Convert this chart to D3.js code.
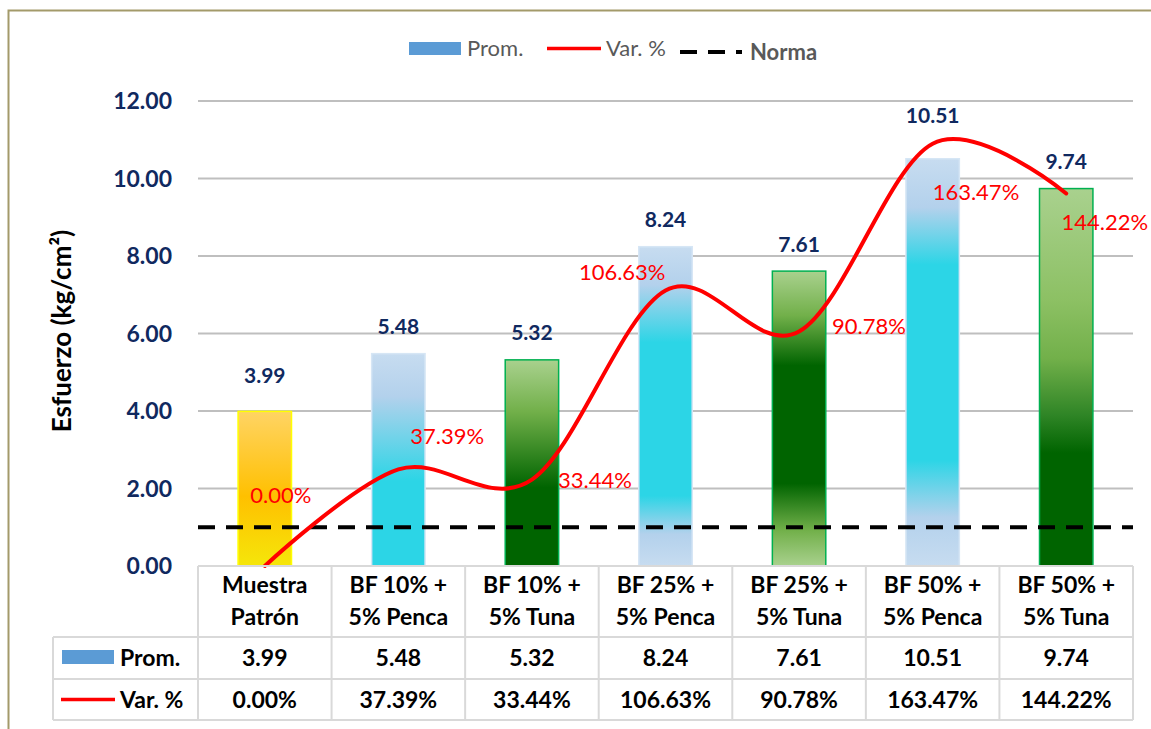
<!DOCTYPE html>
<html>
<head>
<meta charset="utf-8">
<script src="https://cdn.jsdelivr.net/npm/d3@7"></script>
<style>
  html, body { margin: 0; padding: 0; background: #fff; }
  svg { display: block; font-family: Lato, "Open Sans", sans-serif; }
</style>
</head>
<body>
<svg id="chart" width="1151" height="729"></svg>
<script>
// --- Data
const categories = [
  ["Muestra", "Patrón"],
  ["BF 10% +", "5% Penca"],
  ["BF 10% +", "5% Tuna"],
  ["BF 25% +", "5% Penca"],
  ["BF 25% +", "5% Tuna"],
  ["BF 50% +", "5% Penca"],
  ["BF 50% +", "5% Tuna"]
];
const prom = [3.99, 5.48, 5.32, 8.24, 7.61, 10.51, 9.74];
const varPct = [0.00, 37.39, 33.44, 106.63, 90.78, 163.47, 144.22];
const norma = 1.0;
const yTicks = [0, 2, 4, 6, 8, 10, 12];

// --- Layout / style
const svg = d3.select("#chart");
const plot = { left: 198, right: 1133, top: 101, bottom: 566 };
const navy = "#10295f";
const keys = categories.map((d, i) => i);

const x = d3.scaleBand().domain(keys)
  .range([plot.left, plot.right])
  .paddingInner(0.6).paddingOuter(0.3);
const step = x.step();
const y = d3.scaleLinear().domain([0, 12]).range([plot.bottom, plot.top]);
const y2 = d3.scaleLinear().domain([0, 180]).range([plot.bottom, plot.top]);

// gradient per bar (top -> bottom)
const light = "#c7dcf0", pale = "#b3d1ec", cyan = "#2cd5e6";
const lg = "#a9d18e", mg = "#72b04a", dg = "#006400";
const barFills = [
  { stroke: "#ffff00", stops: [[0, "#ffd464"], [0.55, "#ffc000"], [1, "#f5e60a"]] },
  { stroke: "#d6e6f5", stops: [[0, light], [0.2, pale], [0.6, cyan], [1, cyan]] },
  { stroke: "#00b050", stops: [[0, lg], [0.25, mg], [0.62, dg], [1, dg]] },
  { stroke: "#d6e6f5", stops: [[0, light], [0.12, pale], [0.3, cyan], [0.78, cyan], [0.9, pale], [1, light]] },
  { stroke: "#00b050", stops: [[0, lg], [0.15, mg], [0.32, dg], [0.72, dg], [0.88, mg], [1, lg]] },
  { stroke: "#d6e6f5", stops: [[0, light], [0.12, pale], [0.26, cyan], [0.74, cyan], [0.88, pale], [1, light]] },
  { stroke: "#00b050", stops: [[0, lg], [0.3, "#8cc063"], [0.45, mg], [0.6, "#2f8526"], [0.7, dg], [1, dg]] }
];
const promLabelGap = [36, 27, 27, 27, 26, 43, 27];
// [dx, dy, anchor] relative to each line point
const varLabelPos = [[16, -71, "middle"], [12, -33, "start"], [26, 1, "start"], [0, -18, "end"],
  [33, -5, "start"], [0, 49, "start"], [82, 29, "end"]];

const defs = svg.append("defs");
barFills.forEach((f, i) => {
  const g = defs.append("linearGradient").attr("id", "grad" + i)
    .attr("x1", 0).attr("y1", 0).attr("x2", 0).attr("y2", 1);
  f.stops.forEach(s => g.append("stop").attr("offset", s[0]).attr("stop-color", s[1]));
});

// --- Chart frame
svg.append("path")
  .attr("d", "M8.5,729 V10.5 H1151")
  .attr("fill", "none").attr("stroke", "#a39a6a").attr("stroke-width", 2);

// --- Legend
const leg = svg.append("g").attr("font-size", 22);
leg.append("rect").attr("x", 409).attr("y", 42).attr("width", 52).attr("height", 13).attr("fill", "#5b9bd5");
leg.append("text").attr("x", 467).attr("y", 56).attr("fill", "#595959").text("Prom.");
leg.append("line").attr("x1", 547).attr("x2", 601).attr("y1", 48.5).attr("y2", 48.5)
  .attr("stroke", "#ff0000").attr("stroke-width", 3.5);
leg.append("text").attr("x", 606).attr("y", 56).attr("fill", "#595959").text("Var. %");
leg.append("line").attr("x1", 680).attr("x2", 742).attr("y1", 52).attr("y2", 52)
  .attr("stroke", "#000").attr("stroke-width", 4).attr("stroke-dasharray", "17 11");
leg.append("text").attr("x", 750).attr("y", 60).attr("fill", "#595959")
  .attr("font-weight", "bold").text("Norma");

// --- Gridlines
svg.append("g").selectAll("line")
  .data(yTicks.filter(t => t > 0))
  .join("line")
  .attr("x1", plot.left).attr("x2", plot.right)
  .attr("y1", d => y(d)).attr("y2", d => y(d))
  .attr("stroke", "#bfbfbf").attr("stroke-width", 2);

// --- Y axis labels
svg.append("g").selectAll("text")
  .data(yTicks)
  .join("text")
  .attr("x", 172).attr("y", d => y(d)).attr("dy", "0.35em")
  .attr("text-anchor", "end")
  .attr("font-size", 23).attr("font-weight", "bold").attr("fill", navy)
  .text(d => d3.format(".2f")(d));

svg.append("text")
  .attr("transform", "translate(71,331) rotate(-90)")
  .attr("text-anchor", "middle")
  .attr("font-size", 26).attr("font-weight", "bold").attr("fill", "#000")
  .text("Esfuerzo (kg/cm²)");

// --- Bars
svg.append("g").selectAll("rect")
  .data(prom)
  .join("rect")
  .attr("x", (d, i) => x(i))
  .attr("y", d => y(d))
  .attr("width", x.bandwidth())
  .attr("height", d => y(0) - y(d))
  .attr("fill", (d, i) => `url(#grad${i})`)
  .attr("stroke", (d, i) => barFills[i].stroke)
  .attr("stroke-width", 1.5);

// --- Norma line
svg.append("line")
  .attr("x1", plot.left).attr("x2", plot.right)
  .attr("y1", y(norma)).attr("y2", y(norma))
  .attr("stroke", "#000").attr("stroke-width", 4).attr("stroke-dasharray", "17 11");

// --- Var. % curve (secondary axis, hidden)
const pts = varPct.map((v, i) => [x(i) + x.bandwidth() / 2, y2(v)]);
svg.append("path")
  .attr("d", d3.line().curve(d3.curveCardinal.tension(0))(pts))
  .attr("fill", "none").attr("stroke", "#ff0000").attr("stroke-width", 4)
  .attr("stroke-linecap", "round");

// --- Bar value labels
svg.append("g").selectAll("text")
  .data(prom)
  .join("text")
  .attr("x", (d, i) => x(i) + x.bandwidth() / 2)
  .attr("y", (d, i) => y(d) - promLabelGap[i])
  .attr("dy", "0.35em")
  .attr("text-anchor", "middle")
  .attr("font-size", 21).attr("font-weight", "bold").attr("fill", navy)
  .text(d => d3.format(".2f")(d));

// --- Var labels
svg.append("g").selectAll("text")
  .data(varPct)
  .join("text")
  .attr("x", (d, i) => pts[i][0] + varLabelPos[i][0])
  .attr("y", (d, i) => pts[i][1] + varLabelPos[i][1])
  .attr("dy", "0.35em")
  .attr("text-anchor", (d, i) => varLabelPos[i][2])
  .attr("font-size", 22).attr("fill", "#ff0000")
  .text(d => d3.format(".2f")(d) + "%");

// --- Data table
const tbl = svg.append("g");
const rowTop = plot.bottom, rowProm = 637, rowVar = 679, rowEnd = 720, keyLeft = 53;
const border = "#d9d9d9";
// horizontal lines
tbl.append("line").attr("x1", plot.left).attr("x2", plot.right).attr("y1", rowTop).attr("y2", rowTop)
  .attr("stroke", border).attr("stroke-width", 2);
[rowProm, rowVar, rowEnd].forEach(yy => tbl.append("line")
  .attr("x1", keyLeft).attr("x2", plot.right).attr("y1", yy).attr("y2", yy)
  .attr("stroke", border).attr("stroke-width", 2));
// vertical lines
tbl.append("line").attr("x1", keyLeft).attr("x2", keyLeft).attr("y1", rowProm).attr("y2", rowEnd)
  .attr("stroke", border).attr("stroke-width", 2);
keys.concat([keys.length]).forEach(i => {
  const xx = plot.left + i * step;
  tbl.append("line").attr("x1", xx).attr("x2", xx).attr("y1", rowTop).attr("y2", rowEnd)
    .attr("stroke", border).attr("stroke-width", 2);
});

const cellText = tbl.append("g").attr("font-size", 23).attr("font-weight", "bold")
  .attr("fill", "#000").attr("text-anchor", "middle");
categories.forEach((c, i) => {
  const cx = plot.left + (i + 0.5) * step;
  cellText.append("text").attr("x", cx).attr("y", 585).attr("dy", "0.35em").text(c[0]);
  cellText.append("text").attr("x", cx).attr("y", 617).attr("dy", "0.35em").text(c[1]);
  cellText.append("text").attr("x", cx).attr("y", (rowProm + rowVar) / 2).attr("dy", "0.35em")
    .text(d3.format(".2f")(prom[i]));
  cellText.append("text").attr("x", cx).attr("y", (rowVar + rowEnd) / 2).attr("dy", "0.35em")
    .text(d3.format(".2f")(varPct[i]) + "%");
});
// table legend keys
tbl.append("rect").attr("x", 62).attr("y", 650).attr("width", 52).attr("height", 14).attr("fill", "#5b9bd5");
tbl.append("text").attr("x", 120).attr("y", (rowProm + rowVar) / 2).attr("dy", "0.35em")
  .attr("font-size", 23).attr("font-weight", "bold").text("Prom.");
tbl.append("line").attr("x1", 61).attr("x2", 115).attr("y1", 699.5).attr("y2", 699.5)
  .attr("stroke", "#ff0000").attr("stroke-width", 3.5);
tbl.append("text").attr("x", 120).attr("y", (rowVar + rowEnd) / 2).attr("dy", "0.35em")
  .attr("font-size", 23).attr("font-weight", "bold").text("Var. %");
</script>
</body>
</html>
